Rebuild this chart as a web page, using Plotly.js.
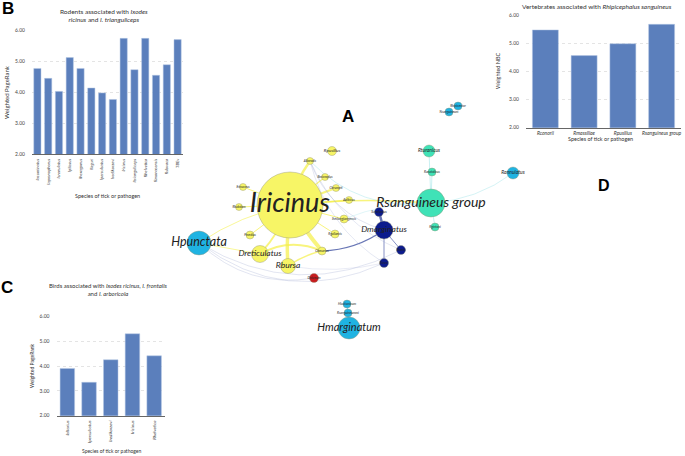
<!DOCTYPE html>
<html><head><meta charset="utf-8">
<script src="https://cdn.plot.ly/plotly-3.0.1.min.js"></script>
<style>html,body{margin:0;padding:0;background:#fff}#chart{width:685px;height:456px}</style>
</head><body><div id="chart"></div>
<script>
// ---------- Panel B data ----------
const rodentSpecies = ['Iacuminatus','Iapronophorus','Icrenulatus','Ipilosus','Ihexagonus','Ilaguri','Ipersulcatus','Iredikorzevi','Iricinus','Itrianguliceps','Rhelvetica','Rmonacensis','Rslovaca','TBEv'];
const rodentRank = [4.76,4.44,4.02,5.11,4.76,4.13,3.97,3.76,5.73,4.72,5.73,4.54,4.88,5.69];
// ---------- Panel C data ----------
const birdSpecies = ['Ialtarius','Ipersulcatus','Iredikorzevi','Iricinus','Rhelvetica'];
const birdRank = [3.91,3.35,4.26,5.31,4.42];
// ---------- Panel D data ----------
const vertSpecies = ['Rconorii','Rmassiliae','Rpusillus','Rsanguineus group'];
const vertNBC = [5.47,4.56,4.98,5.67];
const yTicks = [2,3,4,5,6];
// ---------- Panel A network data ----------
const nodeName = ['Iricinus','Rsanguineus group','Hpunctata','Hmarginatum','Dmarginatus','Dreticulatus','Rbursa','Dniveum',
  'Rturanicus','Ranatolicus','Rgintoni','Rannulatus','Rpusillus','Alloeodis','Bmicroplus','Cbrumpti','Aalbicus',
  'Erinaceus','Rhabdom','Iheilongjiangensis','Pmedius','Rgallaecis','Cbecarius','Scrofanus','Rbovis','Rkrasi',
  'Hlusitanicum','Rsanguineummi','Rhipicentor','Nsanguineum'];
const nodeX = [290,431,199,349,384,260,288,314, 429,432,435,513,332,310,325,336,349, 243,239,344,250,335,322,379,401,384, 347,348,458,449];
const nodeY = [205,203,243,328,230,254,266,278, 151,172,227,173,151,161,177,188,200, 187,207,219,235,234,251,212,250,263, 304,313,106,112];
const nodeR = [33,14,12,11,9,8.5,7.5,4.5, 6,4,4,6,4.5,3.5,3.5,3.5,3.5, 3.5,3.5,4,4,4,4,4.5,4.5,4.5, 4,4,4,4];
const nodeGroup = ['y','t','b','b','n','y','y','r', 't','t','t','b','y','y','y','y','y', 'y','y','y','y','y','y','n','n','n', 'b','b','b','b'];
const labelSize = [27,14,12.5,11,8.5,8.5,8.5,3.5, 5,3.3,3.3,5,4.5,3.3,3.3,3.3,3.3, 3.3,3.3,3.3,3.3,3.3,3.3,3.8,3.3,3.3, 3.3,3.3,3.3,3.3];
const edgeFrom = [0,0,0,0,0,0,0,0,0,0,0,0,0, 5,6,4,4,4,4, 13,13,13, 1,1,1,1,1,1, 2,2,2,2,2, 6,3,3];
const edgeTo   = [22,6,5,13,15,16,21,19,17,18,20,1,14, 22,22,22,23,24,25, 4,24,25, 8,9,10,11,13,19, 24,25,7,0,5, 25,26,27];
const edgeKind = ['y','y','y','y','y','y','y','y','y','y','y','y','y', 'y','y','n','n','n','n', 'g','g','g', 't','t','t','t','t','t', 'g','g','g','y','y', 'g','b','b'];
const edgeWidth= [4,3.5,2,2.5,2,1.5,1,1,1,1,1,1.5,1.2, 2,1.5,1.2,2.5,0.8,0.8, 0.8,0.7,0.7, 1,1,1,0.8,0.8,0.6, 0.8,0.8,0.8,0.8,0.8, 0.6,1,1];
const edgeBend = [0.05,0.05,-0.1,-0.1,0,0,0,0,0,0,0,-0.05,0, -0.25,-0.1,-0.15,0,0,0, 0.25,0.2,0.2, 0,0,0,0.15,-0.25,0.1, 0.28,0.3,0.25,-0.1,0, 0.1,0,0];

const groupColor = {y:'#f7f566', t:'#3fe2b7', b:'#1fb3e2', n:'#0c1b8d', r:'#c81b1e'};
const edgeColor = {y:'rgba(245,240,70,0.7)', t:'rgba(150,225,230,0.5)', n:'rgba(40,60,150,0.7)', g:'rgba(150,160,205,0.35)', b:'rgba(31,179,226,0.5)'};

const shapes = [];
for (let i = 0; i < edgeFrom.length; i++) {
  const x0 = nodeX[edgeFrom[i]], y0 = nodeY[edgeFrom[i]];
  const x1 = nodeX[edgeTo[i]], y1 = nodeY[edgeTo[i]];
  const dx = x1 - x0, dy = y1 - y0;
  const cx = (x0 + x1) / 2 - dy * edgeBend[i];
  const cy = (y0 + y1) / 2 + dx * edgeBend[i];
  shapes.push({type:'path', xref:'x4', yref:'y4', layer:'below',
    path:`M ${x0},${y0} Q ${cx},${cy} ${x1},${y1}`,
    line:{color:edgeColor[edgeKind[i]], width:edgeWidth[i]}});
}

const barColor = '#5b7fbc';
const barLine = {color:'#b7c8e4', width:0.5};
const tickFont = {family:'Lato, Liberation Sans, sans-serif', size:5, color:'#444'};

const traces = [
  {type:'bar', x:rodentSpecies, y:rodentRank, xaxis:'x', yaxis:'y', marker:{color:barColor, line:barLine}, hoverinfo:'none'},
  {type:'bar', x:birdSpecies, y:birdRank, xaxis:'x2', yaxis:'y2', marker:{color:barColor, line:barLine}, hoverinfo:'none'},
  {type:'bar', x:vertSpecies, y:vertNBC, xaxis:'x3', yaxis:'y3', marker:{color:barColor, line:barLine}, hoverinfo:'none'},
  {type:'scatter', mode:'markers+text', x:nodeX, y:nodeY, xaxis:'x4', yaxis:'y4',
    text:nodeName.map(s => '<i>' + s + '</i>'), textposition:'middle center',
    textfont:{family:'Lato, Open Sans, sans-serif', size:labelSize, color:'#222'},
    marker:{size:nodeR.map(r => 2 * r), color:nodeGroup.map(g => groupColor[g]), opacity:1,
      line:{color:'rgba(150,150,120,0.7)', width:0.6}},
    hoverinfo:'none', cliponaxis:false}
];

function yax(domain) {
  return {domain:domain, range:[2,6], tickvals:yTicks, tickformat:'.2f', tickfont:tickFont,
    showgrid:true, gridcolor:'#e4e4e4', griddash:'dot', zeroline:false, showline:false,
    ticks:'outside', ticklen:5, tickcolor:'rgba(0,0,0,0)', fixedrange:true};
}
function xax(domain, anchor, angle, size, len) {
  return {domain:domain, anchor:anchor, tickangle:angle, showline:true, linecolor:'#666', linewidth:1,
    tickfont:{family:'Lato, Liberation Sans, sans-serif', size:size, color:'#333', style:'italic'},
    ticks:'outside', ticklen:len, tickcolor:'rgba(0,0,0,0)', showgrid:false, fixedrange:true};
}
const W = 685, H = 456;
const px = v => v / W, py = v => 1 - v / H;

const annFont = {family:'Lato, Liberation Sans, sans-serif', color:'#333'};
const annotations = [
  {text:'<b>B</b>', x:px(8), y:py(8), font:{family:'Liberation Sans, Arial', size:17, color:'#000'}},
  {text:'<b>C</b>', x:px(7), y:py(287), font:{family:'Liberation Sans, Arial', size:17, color:'#000'}},
  {text:'<b>A</b>', x:px(348), y:py(117), font:{family:'Liberation Sans, Arial', size:17, color:'#000'}},
  {text:'<b>D</b>', x:px(604), y:py(185), font:{family:'Liberation Sans, Arial', size:16, color:'#000'}},
  {text:'Rodents associated with <i>Ixodes</i><br><i>ricinus</i> and <i>I. trianguliceps</i>', x:px(104), y:py(15), font:{...annFont, size:6.5}},
  {text:'Birds associated with <i>Ixodes ricinus, I. frontalis</i><br>and <i>I. arboricola</i>', x:px(108), y:py(289), font:{...annFont, size:6}},
  {text:'Vertebrates associated with <i>Rhipicephalus sanguineus</i>', x:px(597), y:py(7), font:{...annFont, size:6.5}},
  {text:'Weighted PageRank', x:px(7), y:py(92), textangle:-90, font:{...annFont, size:6}},
  {text:'Weighted PageRank', x:px(32), y:py(366), textangle:-90, font:{...annFont, size:5}},
  {text:'Weighted NBC', x:px(498), y:py(71), textangle:-90, font:{...annFont, size:5.5}},
  {text:'Species of tick or pathogen', x:px(107), y:py(196), font:{...annFont, size:5.5}},
  {text:'Species of tick or pathogen', x:px(111), y:py(451), font:{...annFont, size:5}},
  {text:'Species of tick or pathogen', x:px(600), y:py(139), font:{...annFont, size:5.5}}
].map(a => Object.assign({xref:'paper', yref:'paper', showarrow:false, xanchor:'center', yanchor:'middle'}, a));

const layout = {
  width:W, height:H, margin:{l:0, r:0, t:0, b:0}, showlegend:false,
  paper_bgcolor:'#ffffff', plot_bgcolor:'rgba(0,0,0,0)', bargap:0.33,
  xaxis: xax([px(32), px(183)], 'y', -90, 4.3, 2),
  yaxis: yax([py(154), py(30)]),
  xaxis2: xax([px(56.5), px(165)], 'y2', -90, 4.5, 2),
  yaxis2: Object.assign(yax([py(415.7), py(316.7)]), {anchor:'x2'}),
  xaxis3: xax([px(526), px(681)], 'y3', 0, 5, 0),
  yaxis3: Object.assign(yax([py(127.7), py(15)]), {anchor:'x3'}),
  xaxis4: {domain:[0,1], range:[0,W], visible:false, anchor:'y4', fixedrange:true},
  yaxis4: {domain:[0,1], range:[H,0], visible:false, anchor:'x4', fixedrange:true},
  shapes:shapes, annotations:annotations
};
Plotly.newPlot('chart', traces, layout, {staticPlot:true, displayModeBar:false});
</script></body></html>
